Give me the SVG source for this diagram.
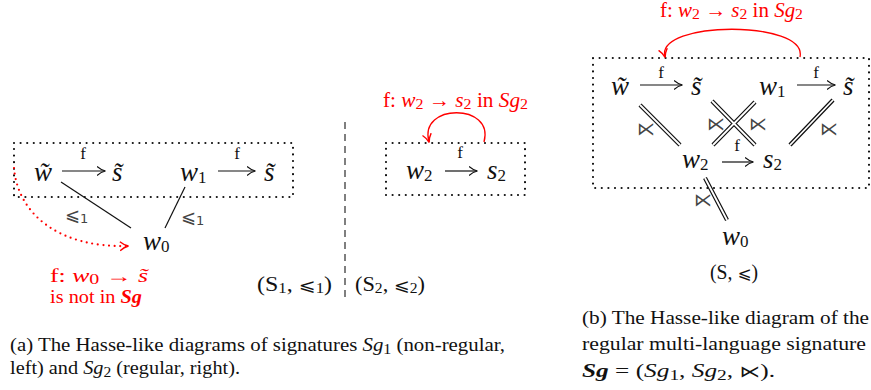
<svg xmlns="http://www.w3.org/2000/svg" width="871" height="390" viewBox="0 0 871 390">
<style>
text{font-family:"Liberation Serif","DejaVu Serif",serif;fill:#111}
.m{font-style:italic;font-size:27px}
.sub{font-style:normal;font-size:17px}
.lab{font-size:17px}
.rel{font-size:18px;font-family:"DejaVu Sans","Liberation Serif",sans-serif;fill:#444}
.red{fill:#f00}
.box{fill:none;stroke:#111;stroke-width:2.2;stroke-linecap:round;stroke-dasharray:0 6.6}
.arr{stroke:#111;stroke-width:1.2;fill:none;marker-end:url(#ah)}
.ln{stroke:#111;stroke-width:1.2}
.dbo{stroke:#111;stroke-width:4.2;fill:none}
.dbi{stroke:#fff;stroke-width:1.8;fill:none}
.rc{stroke:#f00;stroke-width:1.3;fill:none;marker-end:url(#rh)}
.cap{font-size:19.5px}
.tx{font-size:20px}
.tr{font-size:18px}
</style>
<defs>
<marker id="ah" markerWidth="12" markerHeight="12" refX="8.5" refY="6" orient="auto" markerUnits="userSpaceOnUse">
<path d="M0.5,1.5 Q4.5,5 9,6 Q4.5,7 0.5,10.5" fill="none" stroke="#111" stroke-width="1.1"/>
</marker>
<marker id="rh" markerWidth="12" markerHeight="12" refX="8.5" refY="6" orient="auto" markerUnits="userSpaceOnUse">
<path d="M0.5,1.5 Q4.5,5 9,6 Q4.5,7 0.5,10.5" fill="none" stroke="#f00" stroke-width="1.4"/>
</marker>
</defs>

<!-- Left panel: Sg1 -->
<rect class="box" x="14" y="143" width="279" height="54"/>
<g id="l_wt"><text class="m" x="34" y="181">w̃</text></g>
<g id="l_st1"><text class="m" x="112" y="181">s̃</text></g>
<g id="l_w1"><text class="m" x="180" y="181">w<tspan class="sub" dy="2">1</tspan></text></g>
<g id="l_st2"><text class="m" x="264" y="181">s̃</text></g>
<g id="l_w0"><text class="m" x="143" y="250">w<tspan class="sub" dy="2">0</tspan></text></g>

<!-- Middle panel: Sg2 -->
<rect class="box" x="386" y="143" width="139" height="52"/>
<g id="m_w2"><text class="m" x="406" y="179">w<tspan class="sub" dy="2">2</tspan></text></g>
<g id="m_s2"><text class="m" x="487" y="179">s<tspan class="sub" dy="2">2</tspan></text></g>

<!-- Right panel: Sg -->
<rect class="box" x="593" y="58" width="276" height="130"/>
<g id="r_wt"><text class="m" x="611" y="95">w̃</text></g>
<g id="r_st1"><text class="m" x="691" y="95">s̃</text></g>
<g id="r_w1"><text class="m" x="759" y="95">w<tspan class="sub" dy="2">1</tspan></text></g>
<g id="r_st2"><text class="m" x="843" y="95">s̃</text></g>
<g id="r_w2"><text class="m" x="682" y="168">w<tspan class="sub" dy="2">2</tspan></text></g>
<g id="r_s2"><text class="m" x="763" y="168">s<tspan class="sub" dy="2">2</tspan></text></g>
<g id="r_w0"><text class="m" x="722" y="245">w<tspan class="sub" dy="2">0</tspan></text></g>

<g id="connectors">
<line class="arr" x1="62" y1="171" x2="105" y2="171"/>
<text class="lab" x="83" y="159" text-anchor="middle">f</text>
<line class="arr" x1="218" y1="171" x2="255" y2="171"/>
<text class="lab" x="237" y="159" text-anchor="middle">f</text>
<line class="ln" x1="61" y1="182" x2="131" y2="228"/>
<line class="ln" x1="185" y1="187" x2="165" y2="228"/>
<text class="rel" x="65" y="221">⩽<tspan font-size="13" dy="2">1</tspan></text>
<text class="rel" x="181" y="223">⩽<tspan font-size="13" dy="2">1</tspan></text>
<path d="M14,168 C18,215 60,248 128,246" fill="none" stroke="#f00" stroke-width="2.2" stroke-linecap="round" stroke-dasharray="0 5.6" marker-end="url(#rh)"/>

<line class="arr" x1="445" y1="171" x2="477" y2="171"/>
<text class="lab" x="460" y="158" text-anchor="middle">f</text>
<path class="rc" d="M484,142 C495,103 418,103 429,142"/>

<path class="rc" d="M800,57 C808,20 655,20 665,57"/>
<line class="arr" x1="640" y1="85" x2="682" y2="85"/>
<text class="lab" x="661" y="78" text-anchor="middle">f</text>
<line class="arr" x1="797" y1="85" x2="835" y2="85"/>
<text class="lab" x="816" y="78" text-anchor="middle">f</text>
<line class="arr" x1="722" y1="162" x2="753" y2="162"/>
<text class="lab" x="737" y="151" text-anchor="middle">f</text>
<path class="dbo" d="M640,105 L680,145 M712,101 L755,145 M755,102 L713,145 M833,100 L790,145 M705,178 L727,220"/>
<path class="dbi" d="M640,105 L680,145 M712,101 L755,145 M755,102 L713,145 M833,100 L790,145 M705,178 L727,220"/>
<text class="rel" x="637" y="135">⋉</text>
<text class="rel" x="707" y="130">⋉</text>
<text class="rel" x="749" y="130">⋉</text>
<text class="rel" x="820" y="135">⋉</text>
<text class="rel" x="694" y="206">⋉</text>
</g>

<line x1="345" y1="122" x2="345" y2="298" stroke="#555" stroke-width="1.5" stroke-dasharray="7 5"/>

<text class="tr red" x="50" y="282" textLength="98" lengthAdjust="spacingAndGlyphs">f: <tspan font-style="italic">w<tspan font-style="normal" font-size="14" dy="2">0</tspan></tspan><tspan dy="-2"> → </tspan><tspan font-style="italic">s̃</tspan></text>
<text class="tr red" x="50" y="303" textLength="92" lengthAdjust="spacingAndGlyphs">is not in <tspan font-style="italic" font-weight="bold">Sg</tspan></text>
<text class="tx" x="257" y="291" textLength="75" lengthAdjust="spacingAndGlyphs">(S<tspan font-size="14" dy="2">1</tspan><tspan dy="-2">, </tspan><tspan font-family="DejaVu Sans" font-size="17">⩽</tspan><tspan font-size="14" dy="2">1</tspan><tspan dy="-2">)</tspan></text>
<text class="tx" x="355" y="291" textLength="70" lengthAdjust="spacingAndGlyphs">(S<tspan font-size="14" dy="2">2</tspan><tspan dy="-2">, </tspan><tspan font-family="DejaVu Sans" font-size="17">⩽</tspan><tspan font-size="14" dy="2">2</tspan><tspan dy="-2">)</tspan></text>
<text class="tx red" x="383" y="107" textLength="145" lengthAdjust="spacingAndGlyphs">f: <tspan font-style="italic">w<tspan font-style="normal" font-size="15" dy="2">2</tspan></tspan><tspan dy="-2"> → </tspan><tspan font-style="italic">s<tspan font-style="normal" font-size="15" dy="2">2</tspan></tspan><tspan dy="-2"> in </tspan><tspan font-style="italic">Sg<tspan font-style="normal" font-size="15" dy="2">2</tspan></tspan></text>
<text class="tx red" x="660" y="17" textLength="143" lengthAdjust="spacingAndGlyphs">f: <tspan font-style="italic">w<tspan font-style="normal" font-size="15" dy="2">2</tspan></tspan><tspan dy="-2"> → </tspan><tspan font-style="italic">s<tspan font-style="normal" font-size="15" dy="2">2</tspan></tspan><tspan dy="-2"> in </tspan><tspan font-style="italic">Sg<tspan font-style="normal" font-size="15" dy="2">2</tspan></tspan></text>
<text class="tx" x="710" y="279" textLength="48" lengthAdjust="spacingAndGlyphs">(S, <tspan font-family="DejaVu Sans" font-size="17">⩽</tspan>)</text>

<text class="cap" x="10" y="351" textLength="495" lengthAdjust="spacingAndGlyphs">(a)  The Hasse-like diagrams of signatures <tspan font-style="italic">Sg</tspan><tspan font-size="15" dy="3">1</tspan><tspan dy="-3"> (non-regular,</tspan></text>
<text class="cap" x="10" y="374" textLength="230" lengthAdjust="spacingAndGlyphs">left) and <tspan font-style="italic">Sg</tspan><tspan font-size="15" dy="3">2</tspan><tspan dy="-3"> (regular, right).</tspan></text>
<text class="cap" x="582" y="324" textLength="287" lengthAdjust="spacingAndGlyphs">(b)  The Hasse-like diagram of the</text>
<text class="cap" x="582" y="350" textLength="284" lengthAdjust="spacingAndGlyphs">regular multi-language signature</text>
<text class="cap" x="582" y="377" textLength="193" lengthAdjust="spacingAndGlyphs"><tspan font-style="italic" font-weight="bold">Sg</tspan> = (<tspan font-style="italic">Sg</tspan><tspan font-size="15" dy="3">1</tspan><tspan dy="-3">, </tspan><tspan font-style="italic">Sg</tspan><tspan font-size="15" dy="3">2</tspan><tspan dy="-3">, </tspan><tspan font-family="DejaVu Sans" font-size="16">⋉</tspan>).</text>
</svg>
